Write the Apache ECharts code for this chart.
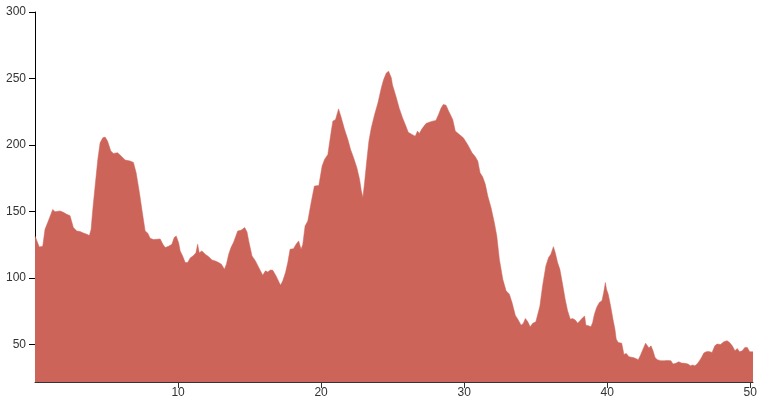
<!DOCTYPE html>
<html>
<head>
<meta charset="utf-8">
<script src="https://cdn.jsdelivr.net/npm/echarts@6/dist/echarts.min.js"></script>
<style>
html,body{margin:0;padding:0;background:#fff;}
#chart{width:762px;height:403px;}
</style>
</head>
<body>
<div id="chart"></div>
<script>
const xValues = [
  0,0.12,0.3,0.54,0.7,0.93,1.24,1.4,1.75,1.98,
  2.22,2.45,2.68,2.92,3.15,3.38,3.62,3.8,3.92,4.04,
  4.2,4.39,4.55,4.74,4.9,5.07,5.3,5.48,5.77,6,
  6.3,6.65,6.88,7.07,7.3,7.54,7.7,7.87,8.05,8.28,
  8.75,8.94,9.1,9.34,9.57,9.73,9.87,10.04,10.15,10.32,
  10.5,10.67,10.85,11.08,11.25,11.37,11.48,11.67,11.9,12.14,
  12.37,12.6,12.84,13.03,13.24,13.38,13.54,13.7,13.89,14.17,
  14.4,14.66,14.82,
  14.94,15.17,15.41,15.64,15.92,16.11,16.27,16.46,16.62,16.85,
  17.16,17.32,17.51,17.67,17.83,18.07,18.25,18.43,18.6,18.72,
  18.88,19.07,19.3,19.53,19.84,20.07,20.24,20.47,20.71,20.82,
  21.01,21.22,21.41,21.64,21.87,22.06,22.27,22.5,22.69,22.81,
  22.92,23.04,23.2,23.34,23.51,23.74,23.97,24.21,24.37,24.56,
  24.72,24.91,
  24.99,25.23,25.46,25.69,25.93,26.09,26.35,26.58,26.74,26.86,
  27.05,27.33,27.56,27.79,28.02,28.21,28.38,28.54,28.73,28.91,
  29.03,29.2,29.38,29.66,29.94,30.24,30.55,30.78,30.95,31.11,
  31.29,31.48,31.65,31.88,32.11,32.28,32.46,32.7,32.93,33.16,
  33.35,33.58,33.75,33.98,34.14,34.28,34.45,34.61,34.8,
  35.01,35.13,35.29,35.48,35.71,35.9,36.06,36.24,36.36,36.53,
  36.69,36.88,37.06,37.23,37.42,37.58,37.77,37.93,38.09,38.28,
  38.42,38.51,38.7,38.86,38.98,39.1,39.26,39.45,39.63,39.75,
  39.87,
  39.95,40.07,40.24,40.4,40.54,40.63,40.77,41.01,41.17,41.33,
  41.52,41.87,42.17,42.33,42.5,42.68,42.8,42.92,43.06,43.2,
  43.34,43.5,43.74,43.97,44.2,44.45,44.6,44.79,
  45,45.19,45.42,45.65,45.82,45.98,46.13,46.28,46.45,46.59,
  46.75,46.91,47.1,47.33,47.52,47.68,47.92,48.15,48.38,48.55,
  48.74,48.93,49.09,49.25,49.44,49.62,49.79,49.96,50.19
];
const yValues = [
  131.7,131,123.5,124,136.7,143,151.7,150,150.5,149.5,
  148,147,138,135.5,135,134,133,132,136.5,151.7,
  169,189.2,201.7,205.5,206,203,195.5,193.7,194.3,192,
  188.8,188,187,179.2,164.2,146.7,135.5,134,130,129,
  129.5,125.5,123,124,125.5,130.5,131.7,126.7,120.5,116.7,
  111.7,111.7,115.2,117,119.2,125.5,119.2,120.5,118,116.2,
  113.7,113,111.7,110.5,106.7,110.5,118,123,127.2,135.5,
  136,138,134.7,
  128,116.7,113,108,102.2,105.5,104.7,106.2,106,101.7,
  94.7,98,104.2,111.7,121.7,122.2,125.5,128,121.7,125.5,
  139.2,143,156.7,169.2,169.7,184.2,189.2,193,210.5,218,
  219.2,227.2,220.5,211.7,204.2,196.7,190.5,183,174.2,165.7,
  160.7,172,189.2,203,213,223,231.7,243,249.2,254.2,
  255.5,250.5,
  245.2,236.7,227.7,220.5,214.2,209.7,208,206.7,210.5,208.7,
  212.2,216.2,217.2,218,218.5,223,227.7,230.5,230,225.7,
  226.7,219.2,210.5,208,205.5,200.5,194.2,191.2,188,179.2,
  176.2,170.5,161.7,153,141.7,131.7,114.2,99.2,90.5,88,
  81.5,72,69.2,64.7,66.2,69.7,67.2,63.5,66.2,
  67.2,67.7,79,94.2,109.2,115.5,118,123.7,119.5,111.7,
  106.7,95.5,84.2,75.5,69.2,69.7,68.5,66.2,68,70.2,
  71.5,64.7,64.2,63.5,66.7,72.7,78,81.7,83,89,
  96.7,
  91.7,88,79,69.2,61.7,54.2,51.7,51.2,42.7,43.5,
  41,40.2,38.8,42.2,46.7,51.2,51.7,47.5,49.2,45.5,
  40.5,38.8,38,38,38.2,38,35.5,36,
  37.2,36.2,36,35.5,34.2,34.7,34.2,35.5,38,40.5,
  43.7,44.7,45,44.2,49.2,50.5,50.2,52.2,53,51.7,
  49.2,45.5,47.2,44.7,45.5,48,48,44.7,44.7
];
const xTicks = [10, 20, 30, 40, 50];
const yTicks = [50, 100, 150, 200, 250, 300];

const seriesData = xValues.map((x, i) => [x, yValues[i]]);

const chart = echarts.init(document.getElementById('chart'), null, {renderer: 'canvas'});
chart.setOption({
  animation: false,
  backgroundColor: '#ffffff',
  grid: {left: 35, right: 9, top: 12, bottom: 21, containLabel: false},
  xAxis: {
    type: 'value',
    min: 0,
    max: 50.19,
    axisLine: {show: true, onZero: false, lineStyle: {color: '#333', width: 1}},
    axisTick: {show: true, customValues: xTicks, length: 6, lineStyle: {color: '#333'}},
    axisLabel: {show: true, customValues: xTicks, margin: 5, color: '#333', fontSize: 12, fontFamily: 'Liberation Sans, Arial, sans-serif'},
    splitLine: {show: false}
  },
  yAxis: {
    type: 'value',
    min: 22,
    max: 300,
    axisLine: {show: true, onZero: false, lineStyle: {color: '#000', width: 1}},
    axisTick: {show: true, customValues: yTicks, length: 6, lineStyle: {color: '#000'}},
    axisLabel: {show: true, customValues: yTicks, margin: 9, color: '#333', fontSize: 12, fontFamily: 'Liberation Sans, Arial, sans-serif'},
    splitLine: {show: false}
  },
  series: [{
    type: 'line',
    data: seriesData,
    showSymbol: false,
    symbol: 'none',
    sampling: 'none',
    smooth: false,
    clip: true,
    lineStyle: {width: 0.5, color: '#cd645a'},
    areaStyle: {color: '#cd645a', opacity: 1, origin: 'start'}
  }]
});
</script>
</body>
</html>
